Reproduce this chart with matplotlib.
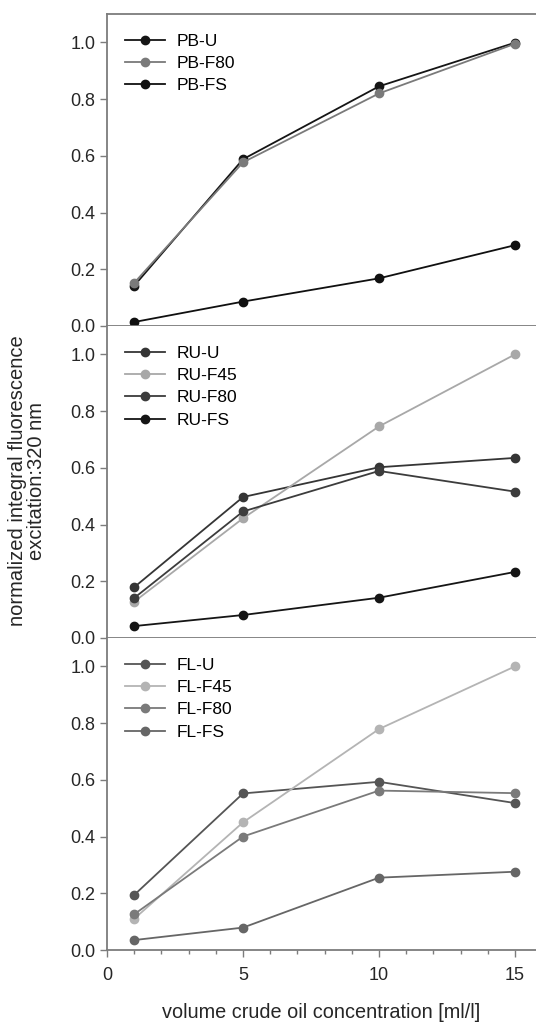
import matplotlib
matplotlib.use("Agg")
import matplotlib.pyplot as plt
from matplotlib.ticker import MultipleLocator

plt.rcParams['font.family'] = ['Liberation Sans', 'DejaVu Sans']

conc = [1, 5, 10, 15]  # ml/l

# panel 1 - PB
pb_names = ["PB-U", "PB-F80", "PB-FS"]
pb_values = [[0.142, 0.588, 0.845, 0.999],
             [0.152, 0.577, 0.820, 0.995],
             [0.014, 0.086, 0.168, 0.285]]
pb_colors = ["#151515", "#7a7a7a", "#101010"]

# panel 2 - RU
ru_names = ["RU-U", "RU-F45", "RU-F80", "RU-FS"]
ru_values = [[0.179, 0.497, 0.602, 0.635],
             [0.128, 0.422, 0.746, 1.000],
             [0.141, 0.446, 0.589, 0.516],
             [0.042, 0.081, 0.142, 0.233]]
ru_colors = ["#353535", "#a8a8a8", "#3c3c3c", "#151515"]

# panel 3 - FL
fl_names = ["FL-U", "FL-F45", "FL-F80", "FL-FS"]
fl_values = [[0.194, 0.552, 0.593, 0.518],
             [0.110, 0.450, 0.779, 1.000],
             [0.126, 0.400, 0.562, 0.553],
             [0.035, 0.079, 0.255, 0.276]]
fl_colors = ["#555555", "#b4b4b4", "#7a7a7a", "#666666"]

panels = [(pb_names, pb_values, pb_colors),
          (ru_names, ru_values, ru_colors),
          (fl_names, fl_values, fl_colors)]

fig = plt.figure(figsize=(5.36, 10.23), dpi=100)
left, right = 107 / 536, 1.0
bottom, top = 1 - 950 / 1023, 1 - 14 / 1023
h = (top - bottom) / 3

spine_col = "#7c7c7c"
txt_col = "#262626"
for k, (names, values, colors) in enumerate(panels):
    ax = fig.add_axes([left, top - (k + 1) * h, right - left, h])
    for name, vals, col in zip(names, values, colors):
        ax.plot(conc, vals, color=col, lw=1.3, marker='o', ms=6, label=name)
    ax.set_xlim(0, 15.77)  # axis runs past the right edge of the picture
    ax.set_ylim(0, 1.1)
    ax.set_yticks([0.0, 0.2, 0.4, 0.6, 0.8, 1.0])
    ax.set_yticklabels(["%.1f" % v for v in [0.0, 0.2, 0.4, 0.6, 0.8, 1.0]])
    for s in ["left", "bottom", "top"]:
        ax.spines[s].set_color(spine_col)
        ax.spines[s].set_linewidth(1.3)
    ax.spines["right"].set_visible(False)
    if k > 0:
        ax.spines["top"].set_visible(False)
    ax.tick_params(axis='y', direction='out', length=5, width=1, color=spine_col,
                   labelsize=13, labelcolor=txt_col, pad=3.5)
    if k < 2:
        ax.tick_params(axis='x', bottom=False, labelbottom=False)
    else:
        ax.set_xticks([0, 5, 10, 15])
        ax.xaxis.set_minor_locator(MultipleLocator(1))
        ax.tick_params(axis='x', which='major', direction='out', length=5, width=1,
                       color=spine_col, labelsize=13, labelcolor=txt_col, pad=7)
        ax.tick_params(axis='x', which='minor', direction='out', length=3, width=1,
                       color=spine_col)
        ax.set_xlabel("volume crude oil concentration [ml/l]", fontsize=14.3,
                      color=txt_col, labelpad=14)
    ax.legend(loc='upper left', frameon=False, fontsize=12.5, handlelength=2.3,
              handletextpad=0.7, labelspacing=0.42, borderaxespad=0.0,
              bbox_to_anchor=(0.025, 0.96))

fig.text(27 / 536, 1 - 481 / 1023,
         "normalized integral fluorescence\nexcitation:320 nm",
         rotation=90, ha='center', va='center', fontsize=14.5, color=txt_col,
         linespacing=0.95)

fig.savefig("out.png", dpi=100)
